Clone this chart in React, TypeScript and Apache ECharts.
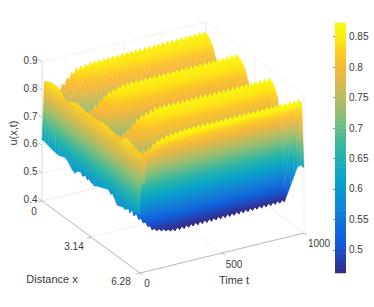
import React, { useEffect, useRef } from "react";
import * as echarts from "echarts";

// Readings. Rows are u(x) at 31 equally spaced distances across 0..6.28.
const troughTimes = [0, 28, 56, 83, 111, 139, 167, 194, 222, 250, 278, 306, 333, 361, 389, 417, 444, 472, 500, 528, 556, 583, 611, 639, 667, 694, 722, 750, 778, 806, 833, 861, 889, 917, 944, 972, 1000];
const crestRowTimes = [14, 60, 120, 200, 300, 1000];
const crestRows = [
  [.828, .835, .842, .843, .842, .835, .82, .814, .822, .83, .835, .832, .829, .828, .828, .828, .828, .83, .833, .834, .83, .827, .824, .82, .828, .84, .838, .832, .827, .825, .824],
  [.77, .76, .745, .72, .69, .66, .62, .61, .64, .72, .79, .78, .76, .73, .70, .66, .62, .61, .65, .73, .80, .785, .76, .70, .58, .60, .65, .70, .76, .825, .825],
  [.80, .79, .77, .74, .71, .66, .56, .54, .60, .71, .81, .795, .77, .74, .70, .64, .56, .54, .60, .71, .81, .79, .76, .68, .53, .57, .63, .69, .76, .85, .85],
  [.848, .842, .825, .785, .73, .68, .535, .505, .57, .71, .848, .842, .825, .785, .72, .62, .52, .50, .57, .72, .85, .842, .81, .66, .48, .56, .63, .71, .80, .862, .86],
  [.858, .855, .84, .80, .73, .62, .52, .49, .57, .73, .865, .86, .84, .80, .73, .62, .52, .49, .57, .73, .868, .86, .82, .655, .462, .55, .63, .71, .80, .868, .865],
  [.868, .865, .852, .81, .735, .62, .52, .49, .58, .74, .872, .866, .852, .81, .735, .62, .52, .49, .58, .74, .872, .866, .83, .66, .47, .55, .63, .71, .80, .872, .87],
];
const troughRowTimes = [0, 50, 120, 200, 330, 990, 1000];
const troughRows = [
  [.62, .62, .615, .612, .61, .608, .612, .618, .61, .595, .586, .602, .606, .606, .605, .597, .592, .6, .605, .61, .615, .62, .605, .583, .588, .592, .597, .602, .605, .608, .61],
  [.75, .74, .725, .70, .67, .64, .60, .59, .62, .70, .77, .76, .74, .71, .68, .64, .60, .59, .63, .71, .78, .765, .74, .68, .56, .58, .63, .68, .74, .80, .80],
  [.785, .775, .755, .725, .695, .645, .545, .525, .585, .695, .795, .78, .755, .725, .685, .625, .545, .525, .585, .695, .795, .775, .745, .665, .52, .56, .62, .68, .75, .835, .835],
  [.832, .826, .808, .77, .715, .665, .52, .49, .555, .695, .832, .826, .808, .77, .705, .605, .505, .485, .555, .705, .834, .826, .795, .645, .472, .545, .615, .695, .785, .85, .845],
  [.842, .838, .822, .785, .715, .605, .505, .475, .555, .715, .85, .843, .822, .785, .715, .605, .505, .475, .555, .715, .852, .843, .805, .64, .452, .535, .615, .695, .785, .855, .852],
  [.85, .847, .834, .795, .72, .605, .505, .475, .565, .725, .855, .848, .834, .795, .72, .605, .505, .475, .565, .725, .855, .848, .815, .645, .46, .535, .615, .695, .785, .858, .856],
  [.85, .847, .834, .795, .72, .605, .505, .475, .565, .725, .855, .848, .834, .795, .72, .605, .505, .475, .565, .725, .855, .848, .815, .645, .46, .50, .54, .58, .62, .635, .635],
];
const distanceTicks = [0, 3.14, 6.28];
const distanceTickLabels = ["0", "3.14", "6.28"];
const timeTicks = [0, 500, 1000];
const timeTickLabels = ["0", "500", "1000"];
const heightTicks = [0.4, 0.5, 0.6, 0.7, 0.8, 0.9];
const colorbarTicks = [0.5, 0.55, 0.6, 0.65, 0.7, 0.75, 0.8, 0.85];
const paletteAt = [0, 0.125, 0.25, 0.375, 0.5, 0.625, 0.7, 0.82, 0.88, 0.93, 1];
const palette = ["#352a87", "#0f5cdd", "#1481d6", "#06a4ca", "#2eb7a4", "#87bf77", "#b9bc62", "#f8b83a", "#fdc726", "#fde614", "#f9fb0e"];

const U_MIN = 0.462, U_MAX = 0.8725;
const DIST_MAX = 6.28, TIME_MAX = 1000, Z_MIN = 0.4, Z_MAX = 0.9;
const ORIGIN = [42, 201], VEC_X = [98, 72], VEC_T = [164, -40], VEC_Z = [0, -139];

function project(x: number, t: number, z: number): number[] {
  const a = x / DIST_MAX, b = t / TIME_MAX, c = (z - Z_MIN) / (Z_MAX - Z_MIN);
  return [ORIGIN[0] + a * VEC_X[0] + b * VEC_T[0] + c * VEC_Z[0], ORIGIN[1] + a * VEC_X[1] + b * VEC_T[1] + c * VEC_Z[1]];
}

function hexRgb(h: string) {
  return [parseInt(h.slice(1, 3), 16), parseInt(h.slice(3, 5), 16), parseInt(h.slice(5, 7), 16)];
}
function colorOf(u: number): string {
  const f = Math.max(0, Math.min(1, (u - U_MIN) / (U_MAX - U_MIN)));
  let k = 0;
  while (k < paletteAt.length - 2 && f > paletteAt[k + 1]) k++;
  const p = hexRgb(palette[k]), q = hexRgb(palette[k + 1]), w = (f - paletteAt[k]) / (paletteAt[k + 1] - paletteAt[k]);
  return `rgb(${p.map((v, n) => Math.round(v + (q[n] - v) * w)).join(",")})`;
}

function rowAt(times: number[], rows: number[][], t: number, i: number): number {
  let k = 0;
  while (k < times.length - 2 && t > times[k + 1]) k++;
  const w = Math.max(0, Math.min(1, (t - times[k]) / (times[k + 1] - times[k])));
  return rows[k][i] + (rows[k + 1][i] - rows[k][i]) * w;
}

type Cell = { pts: number[][]; a: number[]; b: number[]; ua: number; ub: number };
const NX = crestRows[0].length;
const timeline: { t: number; crest: boolean }[] = [];
troughTimes.forEach((t, n) => {
  timeline.push({ t, crest: false });
  if (n < troughTimes.length - 1) timeline.push({ t: (t + troughTimes[n + 1]) / 2, crest: true });
});
function uAt(node: { t: number; crest: boolean }, i: number) {
  return node.crest ? rowAt(crestRowTimes, crestRows, node.t, i) : rowAt(troughRowTimes, troughRows, node.t, i);
}
const mesh: Cell[] = [];
for (let i = 0; i < NX - 1; i++) {
  const x0 = (i / (NX - 1)) * DIST_MAX, x1 = ((i + 1) / (NX - 1)) * DIST_MAX;
  for (let j = timeline.length - 2; j >= 0; j--) {
    const A = timeline[j], B = timeline[j + 1];
    const a0 = uAt(A, i), a1 = uAt(A, i + 1), b0 = uAt(B, i), b1 = uAt(B, i + 1);
    const p00 = project(x0, A.t, a0), p10 = project(x1, A.t, a1), p11 = project(x1, B.t, b1), p01 = project(x0, B.t, b0);
    // Across a cell the colour follows the height, so the gradient runs along the steeper pair of edges.
    const alongT = Math.abs((a0 + a1) / 2 - (b0 + b1) / 2) >= Math.abs((a0 + b0) / 2 - (a1 + b1) / 2);
    mesh.push(alongT
      ? { pts: [p00, p10, p11, p01], a: [(p00[0] + p10[0]) / 2, (p00[1] + p10[1]) / 2], b: [(p01[0] + p11[0]) / 2, (p01[1] + p11[1]) / 2], ua: (a0 + a1) / 2, ub: (b0 + b1) / 2 }
      : { pts: [p00, p10, p11, p01], a: [(p00[0] + p01[0]) / 2, (p00[1] + p01[1]) / 2], b: [(p10[0] + p11[0]) / 2, (p10[1] + p11[1]) / 2], ua: (a0 + b0) / 2, ub: (a1 + b1) / 2 });
  }
}

type Seg = { a: number[]; b: number[]; kind: "grid" | "axis" | "zaxis" };
const segs: Seg[] = [];
const seg = (a: number[], b: number[], kind: Seg["kind"]) => segs.push({ a, b, kind });
heightTicks.forEach((z) => {
  seg(project(0, 0, z), project(0, TIME_MAX, z), "grid");
  seg(project(0, TIME_MAX, z), project(DIST_MAX, TIME_MAX, z), "grid");
  seg(project(0, 0, z), project(-0.22, 0, z), "axis");
});
timeTicks.forEach((t) => {
  seg(project(0, t, Z_MIN), project(DIST_MAX, t, Z_MIN), "grid");
  seg(project(0, t, Z_MIN), project(0, t, Z_MAX), "grid");
  seg(project(DIST_MAX, t, Z_MIN), project(DIST_MAX + 0.2, t, Z_MIN), "axis");
});
distanceTicks.forEach((x) => {
  seg(project(x, 0, Z_MIN), project(x, TIME_MAX, Z_MIN), "grid");
  seg(project(x, TIME_MAX, Z_MIN), project(x, TIME_MAX, Z_MAX), "grid");
  seg(project(x, 0, Z_MIN), project(x, -25, Z_MIN), "axis");
});
seg(project(0, 0, Z_MIN), project(0, 0, Z_MAX), "zaxis");
seg(project(0, 0, Z_MIN), project(DIST_MAX, 0, Z_MIN), "axis");
seg(project(DIST_MAX, 0, Z_MIN), project(DIST_MAX, TIME_MAX, Z_MIN), "axis");

const FONT = "'Liberation Sans', Arial, sans-serif";
const INK = "#3a3a3a";
type Lab = { text: string; x: number; y: number; size: number; align?: string; rot?: number };
const labels: Lab[] = [];
heightTicks.forEach((z) => labels.push({ text: z.toFixed(1), x: 37.5, y: project(0, 0, z)[1] - 1.5, size: 10, align: "right" }));
const distanceLabelSpots = [[34, 211], [74, 246], [121, 281]];
distanceTickLabels.forEach((s, k) => labels.push({ text: s, x: distanceLabelSpots[k][0], y: distanceLabelSpots[k][1], size: 10, align: "center" }));
const timeLabelSpots = [[147, 283], [234, 264], [319, 243]];
timeTickLabels.forEach((s, k) => labels.push({ text: s, x: timeLabelSpots[k][0], y: timeLabelSpots[k][1], size: 10, align: "center" }));
labels.push({ text: "Distance x", x: 52, y: 279, size: 11, align: "center" });
labels.push({ text: "Time t", x: 234, y: 280, size: 11, align: "center" });
labels.push({ text: "u(x,t)", x: 13, y: 133, size: 11, align: "center", rot: Math.PI / 2 });

const BAR_LEVELS = 64;
const barCells = Array.from({ length: BAR_LEVELS }, (_, k) => k);

export default function App() {
  const ref = useRef<HTMLDivElement>(null);
  useEffect(() => {
    document.body.style.margin = "0";
    const chart = echarts.init(ref.current!, undefined, { renderer: "svg" });
    const option: any = {
      animation: false,
      backgroundColor: "#fff",
      grid: { left: 335, top: 23, width: 11, height: 250 },
      xAxis: { type: "value", min: 0, max: 1, show: false },
      yAxis: {
        type: "value",
        position: "right",
        min: U_MIN,
        max: U_MAX,
        splitLine: { show: false },
        axisLine: { show: true, lineStyle: { color: "#999", width: 0.5 } },
        axisTick: { show: true, inside: true, length: 2, customValues: colorbarTicks, lineStyle: { color: "#555", width: 0.6 } },
        axisLabel: {
          show: true,
          customValues: colorbarTicks,
          color: INK,
          fontSize: 10,
          fontFamily: FONT,
          margin: 3,
          formatter: (v: number) => String(Number(v.toFixed(2))),
        },
      },
      series: [
        {
          type: "custom",
          coordinateSystem: "none",
          silent: true,
          z: 1,
          data: segs.map((_, k) => [k]),
          renderItem: (p: any) => {
            const s = segs[p.dataIndex];
            const st = s.kind === "grid" ? { stroke: "#ececec", lineWidth: 0.7 } : s.kind === "zaxis" ? { stroke: "#d8d8d8", lineWidth: 0.7 } : { stroke: "#a0a0a0", lineWidth: 0.7 };
            return { type: "line", shape: { x1: s.a[0], y1: s.a[1], x2: s.b[0], y2: s.b[1] }, style: st };
          },
        },
        {
          type: "custom",
          coordinateSystem: "none",
          silent: true,
          z: 2,
          data: mesh.map((_, k) => [k]),
          renderItem: (p: any) => {
            const c = mesh[p.dataIndex];
            const stops = [0, 0.25, 0.5, 0.75, 1].map((f) => ({ offset: f, color: colorOf(c.ua + (c.ub - c.ua) * f) }));
            const same = Math.hypot(c.a[0] - c.b[0], c.a[1] - c.b[1]) < 0.01;
            const g = new echarts.graphic.LinearGradient(c.a[0], c.a[1], c.b[0], same ? c.b[1] + 1 : c.b[1], stops, true);
            return { type: "polygon", shape: { points: c.pts }, style: { fill: g, stroke: g, lineWidth: 0.4 } };
          },
        },
        {
          type: "custom",
          coordinateSystem: "none",
          silent: true,
          z: 3,
          data: labels.map((_, k) => [k]),
          renderItem: (p: any) => {
            const l = labels[p.dataIndex];
            return {
              type: "text",
              x: l.x,
              y: l.y,
              rotation: l.rot || 0,
              style: { text: l.text, fill: INK, font: `${l.size}px ${FONT}`, align: l.align || "left", verticalAlign: "middle" },
            };
          },
        },
        {
          type: "custom",
          coordinateSystem: "cartesian2d",
          silent: true,
          z: 1,
          data: barCells.map((k) => [k]),
          renderItem: (p: any, api: any) => {
            const k = api.value(0);
            const lo = U_MIN + (k / BAR_LEVELS) * (U_MAX - U_MIN), hi = U_MIN + ((k + 1) / BAR_LEVELS) * (U_MAX - U_MIN);
            const a = api.coord([0, lo]), b = api.coord([1, hi]);
            return { type: "rect", shape: { x: a[0], y: b[1] - 0.3, width: b[0] - a[0], height: a[1] - b[1] + 0.6 }, style: { fill: colorOf((lo + hi) / 2) } };
          },
        },
      ],
    };
    chart.setOption(option);
    return () => chart.dispose();
  }, []);
  return <div ref={ref} style={{ position: "fixed", left: 0, top: 0, width: 374, height: 307 }} />;
}
